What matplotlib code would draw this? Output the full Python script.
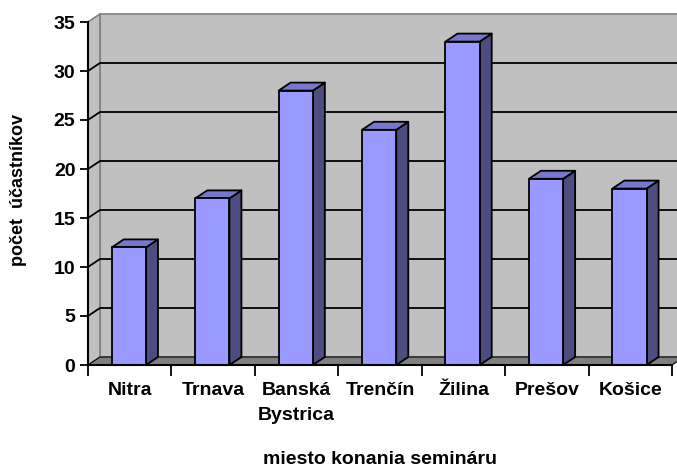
import matplotlib
matplotlib.use("Agg")
import matplotlib.pyplot as plt
from matplotlib.patches import Polygon

plt.rcParams['font.family'] = ['Liberation Sans', 'DejaVu Sans']
plt.rcParams['font.weight'] = 'bold'

# data
cities = ['Nitra', 'Trnava', 'Banská\nBystrica', 'Trenčín', 'Žilina', 'Prešov', 'Košice']
participants = [12, 17, 28, 24, 33, 19, 18]
y_ticks = [0, 5, 10, 15, 20, 25, 30, 35]

W, H = 677, 470
fig = plt.figure(figsize=(W / 100, H / 100), dpi=100)
x0, x1, y0, y1 = 88, 672, 22, 365
ax = fig.add_axes([x0 / W, (H - y1) / H, (x1 - x0) / W, (y1 - y0) / H])
ax.set_xlim(0, 7)
ax.set_ylim(0, 35)
ax.patch.set_alpha(0)

# depth offset of 3d walls (pixels -> data units)
px_x = 7 / (x1 - x0)
px_y = 35 / (y1 - y0)
dx = 12 * px_x
dy = 8 * px_y
n = len(cities)


def poly(pts, fc, ec, lw=1.0, z=1):
    p = Polygon(pts, closed=True, facecolor=fc, edgecolor=ec, lw=lw,
                zorder=z, clip_on=False, joinstyle='round')
    ax.add_patch(p)


# back wall, side wall, floor
poly([(dx, dy), (n + dx, dy), (n + dx, 35 + dy), (dx, 35 + dy)], '#C0C0C0', '#808080', 1.2, 1)
poly([(0, 0), (dx, dy), (dx, 35 + dy), (0, 35)], '#C0C0C0', '#808080', 1.2, 1)
poly([(0, 0), (n, 0), (n + dx, dy), (dx, dy)], '#808080', '#000000', 0.8, 2)

# gridlines
for v in y_ticks[1:-1]:
    ax.plot([0, dx, n + dx], [v, v + dy, v + dy], color='black', lw=1.3,
            zorder=2, clip_on=False, solid_capstyle='butt')

# bars
bw = 0.41
off = 0.285
for i, v in enumerate(participants):
    l = i + off
    r = l + bw
    poly([(r, 0), (r + dx, dy), (r + dx, v + dy), (r, v)], '#4D4D80', 'black', 1.3, 3)
    poly([(l, v), (r, v), (r + dx, v + dy), (l + dx, v + dy)], '#7777CC', 'black', 1.3, 3)
    poly([(l, 0), (r, 0), (r, v), (l, v)], '#9999FF', 'black', 1.3, 4)

for s in ['top', 'right']:
    ax.spines[s].set_visible(False)
for s in ['left', 'bottom']:
    ax.spines[s].set_linewidth(1.5)
    ax.spines[s].set_zorder(5)

ax.set_yticks(y_ticks)
ax.set_yticklabels([str(t) for t in y_ticks], fontsize=14, fontweight='bold')
ax.tick_params(axis='y', length=6, width=1.3, pad=3)

ax.set_xticks(range(n + 1))
ax.set_xticklabels([])
ax.tick_params(axis='x', length=8, width=1.3)
ax.set_xticks([i + 0.5 for i in range(n)], minor=True)
ax.set_xticklabels(cities, minor=True, fontsize=14, fontweight='bold', linespacing=1.65, va='top')
ax.tick_params(axis='x', which='minor', length=0, pad=12)

fig.text(19 / W, 1 - 190 / H, 'počet  účastníkov', rotation=90, ha='center', va='center',
         fontsize=13, fontweight='bold')
fig.text(380 / W, 1 - 460 / H, 'miesto konania semináru', ha='center', va='center',
         fontsize=14, fontweight='bold')

fig.savefig('out.png', dpi=100)
